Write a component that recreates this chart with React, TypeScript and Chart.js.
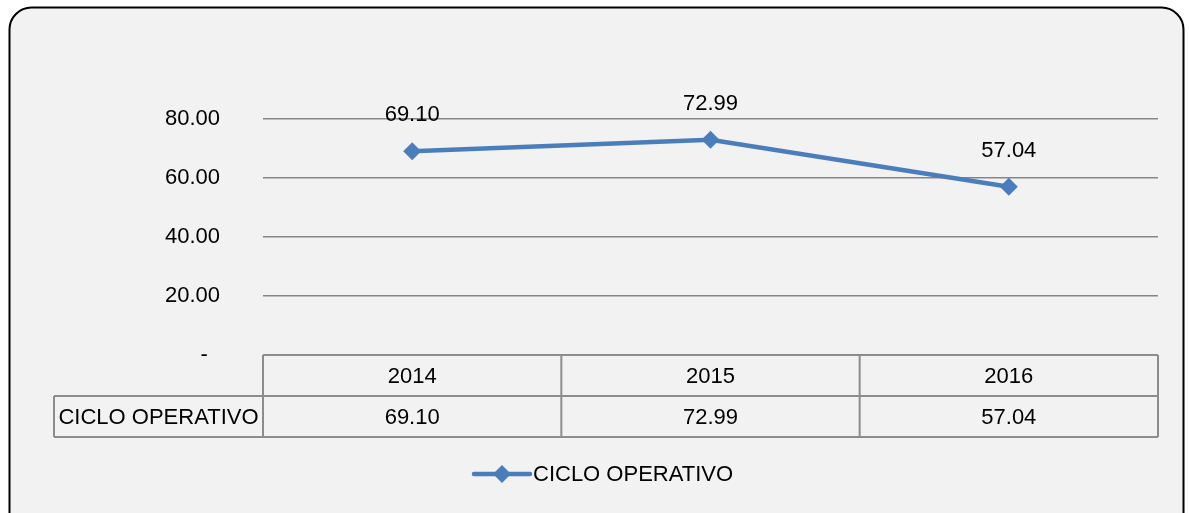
import React, { useEffect, useRef } from "react";
import { Chart, registerables } from "chart.js";

Chart.register(...registerables);

const categories = ["2014", "2015", "2016"];
const seriesName = "CICLO OPERATIVO";
const cicloOperativo = [69.1, 72.99, 57.04];
const yTicks = [0, 20, 40, 60, 80];

const FONT = "'Liberation Sans', Arial, sans-serif";
const FONT_SIZE = 22;
const LINE_COLOR = "#4a7ebb";
const GRID_COLOR = "#868686";
const TABLE_COLOR = "#8c8c8c";

const W = 1189;
const H = 513;

const fmt = (v: number) => v.toFixed(2);

const framePlugin = {
  id: "frame",
  beforeDraw(chart: any) {
    const ctx = chart.ctx;
    ctx.save();
    ctx.fillStyle = "#ffffff";
    ctx.fillRect(0, 0, W, H);
    ctx.beginPath();
    (ctx as any).roundRect(9.5, 7.5, 1174, 540, 22);
    ctx.fillStyle = "#f2f2f2";
    ctx.fill();
    ctx.lineWidth = 2;
    ctx.strokeStyle = "#000000";
    ctx.stroke();
    ctx.restore();
  },
};

const labelsPlugin = {
  id: "pointLabels",
  afterDatasetsDraw(chart: any) {
    const ctx = chart.ctx;
    const meta = chart.getDatasetMeta(0);
    ctx.save();
    ctx.font = `${FONT_SIZE}px ${FONT}`;
    ctx.fillStyle = "#000000";
    ctx.textAlign = "center";
    ctx.textBaseline = "middle";
    meta.data.forEach((pt: any, i: number) => {
      ctx.fillText(fmt(cicloOperativo[i]), pt.x, pt.y - 36);
    });
    ctx.restore();
  },
};

const tablePlugin = {
  id: "dataTable",
  afterDraw(chart: any) {
    const ctx = chart.ctx;
    const area = chart.chartArea;
    const xs = chart.scales.x;
    const centers = categories.map((_, i) => xs.getPixelForValue(i));
    const bounds: number[] = [area.left];
    for (let i = 0; i < centers.length - 1; i++) {
      bounds.push((centers[i] + centers[i + 1]) / 2);
    }
    bounds.push(area.right);
    const top = area.bottom;
    const rowH = 41;
    const mid = top + rowH;
    const bot = mid + rowH;
    const labelLeft = 54;

    ctx.save();
    ctx.strokeStyle = TABLE_COLOR;
    ctx.lineWidth = 2;
    ctx.beginPath();
    // horizontal lines
    ctx.moveTo(area.left, top);
    ctx.lineTo(area.right, top);
    ctx.moveTo(labelLeft, mid);
    ctx.lineTo(area.right, mid);
    ctx.moveTo(labelLeft, bot);
    ctx.lineTo(area.right, bot);
    // vertical lines
    bounds.forEach((b) => {
      ctx.moveTo(b, top);
      ctx.lineTo(b, bot);
    });
    ctx.moveTo(labelLeft, mid);
    ctx.lineTo(labelLeft, bot);
    ctx.stroke();

    ctx.font = `${FONT_SIZE}px ${FONT}`;
    ctx.fillStyle = "#000000";
    ctx.textAlign = "center";
    ctx.textBaseline = "middle";
    categories.forEach((c, i) => {
      ctx.fillText(c, centers[i], top + rowH / 2 + 1);
      ctx.fillText(fmt(cicloOperativo[i]), centers[i], mid + rowH / 2 + 1);
    });
    ctx.fillText(seriesName, (labelLeft + area.left) / 2, mid + rowH / 2 + 1);

    // legend
    const ly = 474;
    const lx0 = 474;
    const lx1 = 530;
    ctx.strokeStyle = LINE_COLOR;
    ctx.lineWidth = 4.5;
    ctx.lineCap = "round";
    ctx.beginPath();
    ctx.moveTo(lx0, ly);
    ctx.lineTo(lx1, ly);
    ctx.stroke();
    const cx = (lx0 + lx1) / 2;
    ctx.fillStyle = LINE_COLOR;
    ctx.beginPath();
    ctx.moveTo(cx, ly - 9);
    ctx.lineTo(cx + 9, ly);
    ctx.lineTo(cx, ly + 9);
    ctx.lineTo(cx - 9, ly);
    ctx.closePath();
    ctx.fill();
    ctx.fillStyle = "#000000";
    ctx.textAlign = "left";
    ctx.fillText(seriesName, lx1 + 3, ly + 1);
    ctx.restore();
  },
};

export default function App() {
  const ref = useRef<HTMLCanvasElement | null>(null);

  useEffect(() => {
    document.body.style.margin = "0";
    const canvas = ref.current;
    if (!canvas) return;
    const chart = new Chart(canvas, {
      type: "line",
      data: {
        labels: categories,
        datasets: [
          {
            label: seriesName,
            data: cicloOperativo,
            borderColor: LINE_COLOR,
            backgroundColor: LINE_COLOR,
            borderWidth: 4.5,
            pointStyle: "rectRot",
            pointRadius: 9,
            pointBorderWidth: 0,
            pointBackgroundColor: LINE_COLOR,
            tension: 0,
            clip: false as any,
          },
        ],
      },
      options: {
        responsive: false,
        animation: false,
        devicePixelRatio: 1,
        layout: { padding: { left: 0, right: 31, top: 119, bottom: 158 } },
        plugins: {
          legend: { display: false },
          tooltip: { enabled: false },
        },
        scales: {
          x: {
            type: "category",
            offset: true,
            display: false,
          },
          y: {
            min: 0,
            max: 80,
            afterFit(scale: any) {
              scale.width = 263;
            },
            afterBuildTicks(scale: any) {
              scale.ticks = yTicks.map((v) => ({ value: v }));
            },
            border: { display: false },
            grid: {
              color: GRID_COLOR,
              lineWidth: 1.5,
              drawTicks: false,
            },
            ticks: {
              padding: 43,
              color: "#000000",
              font: { family: FONT, size: FONT_SIZE },
              callback: (v: any) => (Number(v) === 0 ? "-  " : fmt(Number(v))),
            },
          },
        },
      },
      plugins: [framePlugin, labelsPlugin, tablePlugin],
    });
    return () => chart.destroy();
  }, []);

  return <canvas ref={ref} width={W} height={H} style={{ display: "block" }} />;
}
